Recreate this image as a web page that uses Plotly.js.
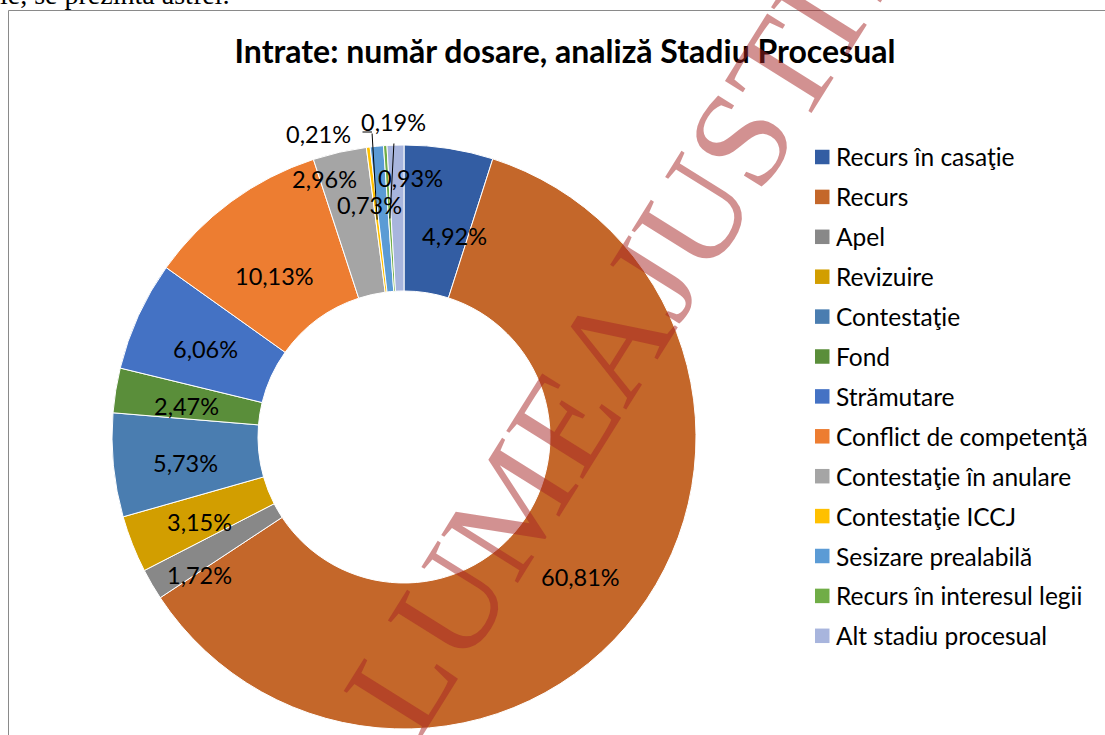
<!DOCTYPE html>
<html>
<head>
<meta charset="utf-8">
<script src="https://cdn.plot.ly/plotly-3.0.1.min.js"></script>
<style>
  html, body { margin: 0; padding: 0; background: #fff; overflow: hidden; }
  #chart { width: 1105px; height: 735px; }
</style>
</head>
<body>
<div id="chart"></div>
<script>
// ---- data ----
const categories = [
  "Recurs în casaţie", "Recurs", "Apel", "Revizuire", "Contestaţie", "Fond",
  "Strămutare", "Conflict de competenţă", "Contestaţie în anulare",
  "Contestaţie ICCJ", "Sesizare prealabilă", "Recurs în interesul legii",
  "Alt stadiu procesual"
];
const values = [4.92, 60.81, 1.72, 3.15, 5.73, 2.47, 6.06, 10.13, 2.96, 0.21, 0.73, 0.19, 0.93];
const colors = [
  "#335DA3", "#C4672A", "#888888", "#D29E00", "#4A7DB0", "#5A8E3A",
  "#4472C4", "#ED7D31", "#A5A5A5", "#FFC000", "#5B9BD5", "#70AD47", "#A8B5DD"
];
const titleText = "Intrate: număr dosare, analiză Stadiu Procesual";
const headerText = "ie, se prezintă astfel:";
const watermarkText = "LUMEAJUSTITIEI.RO";

// ---- layout constants ----
const W = 1105, H = 735;
const CX = 404, CY = 437, R = 292;
const FONT = "Lato, 'Open Sans', sans-serif";
const px2x = p => p / W;
const px2y = p => 1 - p / H;

// label nudges (pixels) for Excel-like best-fit placement
const nudges = [[18,10],[7,11],[-20,30],[-6,7],[-6,5],[-7,3],[-5,1],[-3,11],[-32,-50],[0,0],[-15,-20],[0,0],[13,-46]];
// labels with leader lines
const leaderLabels = {9: {tx: 318, ty: 134, lx: 372, ly: 132, hx: 361}, 11: {tx: 393, ty: 122, lx: 394, ly: 142}};

const total = values.reduce((a, b) => a + b, 0);
const fmt = v => v.toFixed(2).replace('.', ',') + '%';

const annotations = [];
const shapes = [];
const LABEL_SIZE = 23.5;

let cum = 0;
values.forEach((v, i) => {
  const mid = (cum + v / 2) / total * 2 * Math.PI;
  cum += v;
  if (leaderLabels[i]) {
    const L = leaderLabels[i];
    const r = 0.75 * R;
    const sx = CX + r * Math.sin(mid), sy = CY - r * Math.cos(mid);
    annotations.push({
      x: px2x(sx), y: px2y(sy), xref: 'paper', yref: 'paper', text: '',
      showarrow: true, arrowhead: 0, arrowwidth: 1, arrowcolor: '#000',
      ax: L.lx - sx, ay: L.ly - sy, standoff: 0, startstandoff: 0
    });
    if (L.hx !== undefined) {
      annotations.push({
        x: px2x(L.lx), y: px2y(L.ly), xref: 'paper', yref: 'paper', text: '',
        showarrow: true, arrowhead: 0, arrowwidth: 1, arrowcolor: '#000',
        ax: L.hx - L.lx, ay: 0, standoff: 0, startstandoff: 0
      });
    }
    annotations.push({
      x: px2x(L.tx), y: px2y(L.ty), xref: 'paper', yref: 'paper',
      text: fmt(v), showarrow: false, xanchor: 'center', yanchor: 'middle',
      font: {family: FONT, size: LABEL_SIZE, color: '#000'}
    });
  } else {
    const r = 0.73 * R;
    const x = CX + r * Math.sin(mid) + nudges[i][0];
    const y = CY - r * Math.cos(mid) + nudges[i][1];
    annotations.push({
      x: px2x(x), y: px2y(y), xref: 'paper', yref: 'paper',
      text: fmt(v), showarrow: false, xanchor: 'center', yanchor: 'middle',
      font: {family: FONT, size: LABEL_SIZE, color: '#000'}
    });
  }
});

// manual legend
const LEG_X = 815, LEG_Y0 = 157, LEG_DY = 39.9, SQ = 14.5;
categories.forEach((c, i) => {
  const yc = LEG_Y0 + i * LEG_DY;
  shapes.push({
    type: 'rect', xref: 'paper', yref: 'paper',
    x0: px2x(LEG_X), x1: px2x(LEG_X + SQ),
    y0: px2y(yc + SQ / 2), y1: px2y(yc - SQ / 2),
    fillcolor: colors[i], line: {width: 0}
  });
  annotations.push({
    x: px2x(834), y: px2y(yc), xref: 'paper', yref: 'paper',
    text: c, showarrow: false, xanchor: 'left', yanchor: 'middle',
    font: {family: FONT, size: 24.5, color: '#000'}
  });
});

// chart frame (left and top edges visible)
shapes.push({type: 'line', xref: 'paper', yref: 'paper', x0: px2x(8.5), x1: px2x(8.5), y0: px2y(10.5), y1: px2y(H + 5), line: {color: '#8a8a8a', width: 1}});
shapes.push({type: 'line', xref: 'paper', yref: 'paper', x0: px2x(8.5), x1: px2x(W + 5), y0: px2y(10.5), y1: px2y(10.5), line: {color: '#8a8a8a', width: 1}});

// header text of the document (clipped at top)
annotations.push({
  x: px2x(-2), y: px2y(12), xref: 'paper', yref: 'paper',
  text: headerText, showarrow: false, xanchor: 'left', yanchor: 'bottom',
  font: {family: "'Liberation Serif', serif", size: 28, color: '#000'}
});

// watermark
annotations.push({
  x: px2x(733), y: px2y(150), xref: 'paper', yref: 'paper',
  text: watermarkText, showarrow: false, textangle: -58,
  xanchor: 'center', yanchor: 'middle',
  font: {family: "'Liberation Serif', serif", size: 138, color: 'rgba(165,35,35,0.5)'}
});

const trace = {
  type: 'pie',
  values: values,
  labels: categories,
  sort: false,
  direction: 'clockwise',
  rotation: 0,
  hole: 0.5,
  textinfo: 'none',
  hoverinfo: 'label+percent',
  showlegend: false,
  marker: {colors: colors, line: {color: '#ffffff', width: 1}},
  domain: {x: [px2x(CX - R), px2x(CX + R)], y: [px2y(CY + R), px2y(CY - R)]}
};

const layout = {
  width: W, height: H,
  margin: {l: 0, r: 0, t: 0, b: 0, pad: 0},
  paper_bgcolor: '#fff',
  plot_bgcolor: '#fff',
  showlegend: false,
  title: {
    text: '<b>' + titleText + '</b>',
    x: px2x(565), y: px2y(52), xanchor: 'center', yanchor: 'middle',
    xref: 'paper', yref: 'paper',
    font: {family: FONT, size: 32, color: '#000'}
  },
  annotations: annotations,
  shapes: shapes
};

Plotly.newPlot('chart', [trace], layout, {displayModeBar: false, staticPlot: true});
</script>
</body>
</html>
